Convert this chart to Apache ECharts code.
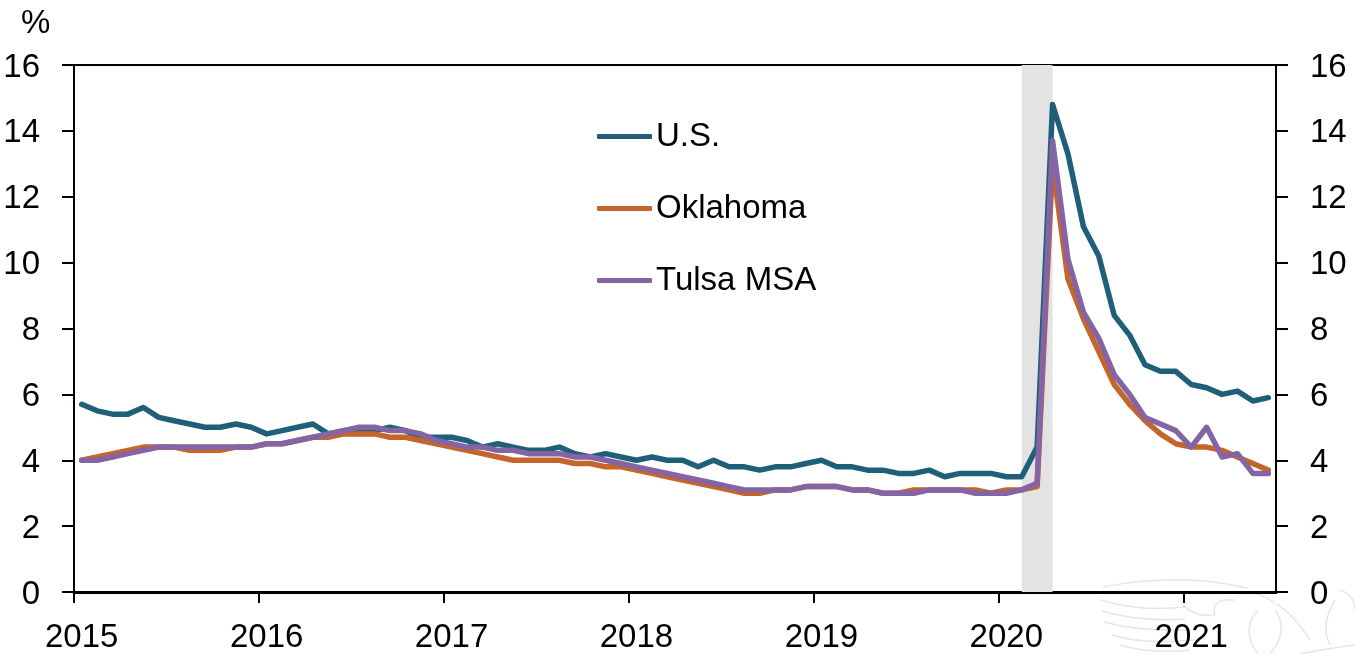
<!DOCTYPE html>
<html>
<head>
<meta charset="utf-8">
<title>Unemployment rate</title>
<script src="https://cdn.jsdelivr.net/npm/echarts@6/dist/echarts.min.js"></script>
<style>
  html, body { margin: 0; padding: 0; background: #fff; }
  #chart { width: 1355px; height: 654px; }
</style>
</head>
<body>
<div id="chart"></div>
<script>
// monthly, Jan 2015 - Jun 2021
var years = [2015, 2016, 2017, 2018, 2019, 2020, 2021];
var months = [];
for (var i = 0; i < 78; i++) {
  months.push(years[Math.floor(i / 12)] + '-' + (i % 12 + 1));
}

var usRate = [
  5.7, 5.5, 5.4, 5.4, 5.6, 5.3, 5.2, 5.1, 5.0, 5.0, 5.1, 5.0,
  4.8, 4.9, 5.0, 5.1, 4.8, 4.9, 4.9, 4.9, 5.0, 4.9, 4.7, 4.7,
  4.7, 4.6, 4.4, 4.5, 4.4, 4.3, 4.3, 4.4, 4.2, 4.1, 4.2, 4.1,
  4.0, 4.1, 4.0, 4.0, 3.8, 4.0, 3.8, 3.8, 3.7, 3.8, 3.8, 3.9,
  4.0, 3.8, 3.8, 3.7, 3.7, 3.6, 3.6, 3.7, 3.5, 3.6, 3.6, 3.6,
  3.5, 3.5, 4.4, 14.8, 13.3, 11.1, 10.2, 8.4, 7.8, 6.9, 6.7, 6.7,
  6.3, 6.2, 6.0, 6.1, 5.8, 5.9
];
var oklahomaRate = [
  4.0, 4.1, 4.2, 4.3, 4.4, 4.4, 4.4, 4.3, 4.3, 4.3, 4.4, 4.4,
  4.5, 4.5, 4.6, 4.7, 4.7, 4.8, 4.8, 4.8, 4.7, 4.7, 4.6, 4.5,
  4.4, 4.3, 4.2, 4.1, 4.0, 4.0, 4.0, 4.0, 3.9, 3.9, 3.8, 3.8,
  3.7, 3.6, 3.5, 3.4, 3.3, 3.2, 3.1, 3.0, 3.0, 3.1, 3.1, 3.2,
  3.2, 3.2, 3.1, 3.1, 3.0, 3.0, 3.1, 3.1, 3.1, 3.1, 3.1, 3.0,
  3.1, 3.1, 3.2, 13.0, 9.5, 8.3, 7.3, 6.3, 5.7, 5.2, 4.8, 4.5,
  4.4, 4.4, 4.3, 4.1, 3.9, 3.7
];
var tulsaRate = [
  4.0, 4.0, 4.1, 4.2, 4.3, 4.4, 4.4, 4.4, 4.4, 4.4, 4.4, 4.4,
  4.5, 4.5, 4.6, 4.7, 4.8, 4.9, 5.0, 5.0, 4.9, 4.9, 4.8, 4.6,
  4.5, 4.4, 4.4, 4.3, 4.3, 4.2, 4.2, 4.2, 4.1, 4.1, 4.0, 3.9,
  3.8, 3.7, 3.6, 3.5, 3.4, 3.3, 3.2, 3.1, 3.1, 3.1, 3.1, 3.2,
  3.2, 3.2, 3.1, 3.1, 3.0, 3.0, 3.0, 3.1, 3.1, 3.1, 3.0, 3.0,
  3.0, 3.1, 3.3, 13.7, 10.1, 8.5, 7.7, 6.6, 6.0, 5.3, 5.1, 4.9,
  4.4, 5.0, 4.1, 4.2, 3.6, 3.6
];
var recession = ['2020-2', '2020-4'];

var fontName = '"Liberation Sans", Arial, sans-serif';
var fontSize = 33;

// faint logo behind the bottom right corner: x1, y1, cpx, cpy, x2, y2
var watermarkCurves = [
  [1103, 587, 1180, 572, 1247, 588],
  [1100, 600, 1140, 612, 1186, 607],
  [1102, 611, 1140, 622, 1185, 619],
  [1104, 622, 1140, 632, 1190, 630],
  [1112, 635, 1145, 645, 1195, 640],
  [1120, 645, 1150, 654, 1190, 650],
  [1182, 604, 1195, 618, 1215, 615],
  [1215, 615, 1210, 598, 1235, 600],
  [1250, 592, 1285, 600, 1310, 640],
  [1258, 610, 1240, 630, 1258, 654],
  [1275, 610, 1290, 630, 1270, 654],
  [1335, 600, 1320, 625, 1330, 645],
  [1340, 590, 1355, 595, 1355, 610],
  [1300, 654, 1330, 648, 1355, 645]
];

function makeSeries(name, data, color) {
  return {
    name: name,
    type: 'line',
    data: data,
    symbol: 'none',
    lineStyle: { color: color, width: 5.5, join: 'round', cap: 'round' },
    itemStyle: { color: color }
  };
}

function yAxis(position) {
  return {
    type: 'value',
    position: position,
    min: 0,
    max: 16,
    interval: 2,
    splitLine: { show: false },
    axisLine: { show: true, lineStyle: { color: '#000', width: 2 } },
    axisTick: { show: true, length: 12, lineStyle: { color: '#000', width: 2 } },
    axisLabel: {
      margin: 34,
      formatter: '{num|{value}}',
      rich: {
        num: { color: '#000', fontFamily: fontName, fontSize: fontSize, padding: [5, 0, 0, 0] }
      }
    }
  };
}

var chart = echarts.init(document.getElementById('chart'));

var usSeries = makeSeries('U.S.', usRate, '#1f5f7a');
usSeries.markArea = {
  silent: true,
  itemStyle: { color: '#e3e3e3' },
  data: [[{ xAxis: recession[0] }, { xAxis: recession[1] }]]
};

// echarts always closes the band axis with a tick at the far end, the original has none there
var endTickCover = {
  type: 'line',
  z: 10,
  silent: true,
  shape: { x1: 1276, y1: 594, x2: 1276, y2: 604 },
  style: { stroke: '#fff', lineWidth: 3 }
};

chart.setOption({
  animation: false,
  title: {
    text: '%',
    left: 16,
    top: 2,
    textStyle: { color: '#000', fontFamily: fontName, fontSize: fontSize, fontWeight: 'normal' }
  },
  grid: { left: 74, right: 79, top: 65, bottom: 62, outerBoundsMode: 'none' },
  legend: {
    orient: 'vertical',
    left: 592,
    top: 115,
    itemWidth: 55,
    itemHeight: 5,
    itemGap: 39,
    icon: 'roundRect',
    textStyle: { color: '#000', fontFamily: fontName, fontSize: fontSize, padding: [0, 0, 0, -1] },
    data: ['U.S.', 'Oklahoma', 'Tulsa MSA']
  },
  xAxis: [
    {
      type: 'category',
      data: months,
      position: 'bottom',
      axisLine: { onZero: false, lineStyle: { color: '#000', width: 3 } },
      axisTick: { show: true, length: 11, interval: 11, lineStyle: { color: '#000', width: 2 } },
      axisLabel: {
        margin: 29,
        color: '#000',
        fontFamily: fontName,
        fontSize: fontSize,
        interval: 11,
        formatter: function (v) { return v.split('-')[0]; }
      }
    },
    {
      type: 'category',
      data: months,
      position: 'top',
      axisLine: { onZero: false, lineStyle: { color: '#000', width: 2 } },
      axisTick: { show: false },
      axisLabel: { show: false }
    }
  ],
  yAxis: [yAxis('left'), yAxis('right')],
  graphic: watermarkCurves.map(function (c) {
    return {
      type: 'bezierCurve',
      z: -1,
      silent: true,
      shape: { x1: c[0], y1: c[1], cpx1: c[2], cpy1: c[3], x2: c[4], y2: c[5] },
      style: { fill: null, stroke: '#e6e6e6', lineWidth: 1.5 }
    };
  }).concat([endTickCover]),
  series: [
    usSeries,
    makeSeries('Oklahoma', oklahomaRate, '#c4652b'),
    makeSeries('Tulsa MSA', tulsaRate, '#8464a4')
  ]
});
</script>
</body>
</html>
